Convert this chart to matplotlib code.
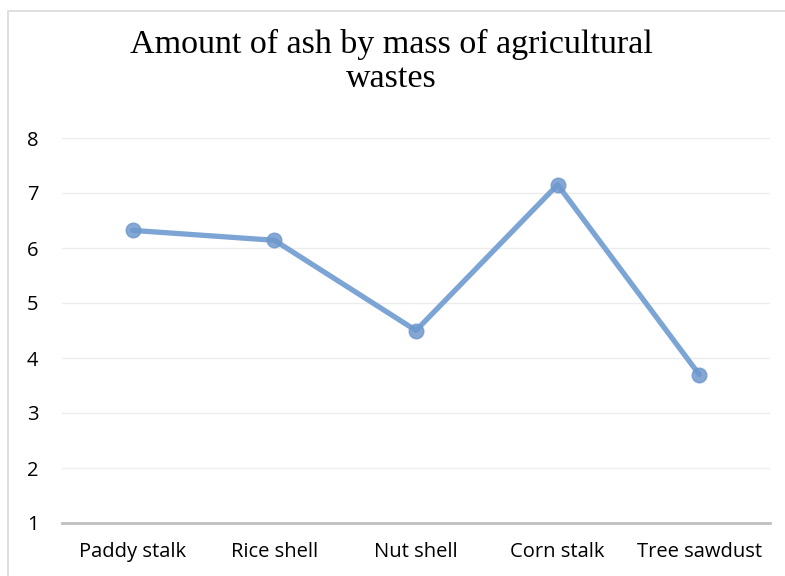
import matplotlib.pyplot as plt
from matplotlib.patches import Rectangle

# Data
categories = ['Paddy stalk', 'Rice shell', 'Nut shell', 'Corn stalk', 'Tree sawdust']
ash = [6.32, 6.14, 4.50, 7.15, 3.70]
yticks = [1, 2, 3, 4, 5, 6, 7, 8]

fig = plt.figure(figsize=(7.85, 5.76), dpi=100)
ax = fig.add_axes([62 / 785, 1 - 523 / 576, (770 - 62) / 785, (523 - 138) / 576])

# Chart frame (cut off at right and bottom in the reference)
fig.patches.append(Rectangle((8 / 785, -0.1), 1.2, 1 - 11 / 576 + 0.1,
                             transform=fig.transFigure, fill=False,
                             edgecolor='#d9d9d9', linewidth=1.2))

x = range(len(categories))
ax.plot(x, ash, color='#7ca4d4', linewidth=3.8, solid_capstyle='round', zorder=3)
ax.plot(x, ash, linestyle='none', marker='o', markersize=10.5,
        color='#6f98cd', alpha=0.85, zorder=4)

ax.set_xlim(-0.5, 4.5)
ax.set_ylim(1, 8)
ax.set_yticks(yticks)
ax.set_xticks(list(x))
ax.set_xticklabels(categories)

ax.grid(axis='y', color='#ececec', linewidth=1)
ax.set_axisbelow(True)
for side in ['top', 'right', 'left']:
    ax.spines[side].set_visible(False)
ax.spines['bottom'].set_color('#bfbfbf')
ax.spines['bottom'].set_linewidth(2)
ax.tick_params(axis='both', length=0, labelsize=14.5, colors='black')
ax.tick_params(axis='y', pad=17)
ax.tick_params(axis='x', pad=14)
for lbl in ax.get_xticklabels() + ax.get_yticklabels():
    lbl.set_fontfamily('Open Sans')

fig.text(391 / 785, 1 - 29 / 576, 'Amount of ash by mass of agricultural\nwastes',
         ha='center', va='top', fontsize=24.5, family='Liberation Serif',
         linespacing=1.15)

fig.savefig('out.png', dpi=100)
